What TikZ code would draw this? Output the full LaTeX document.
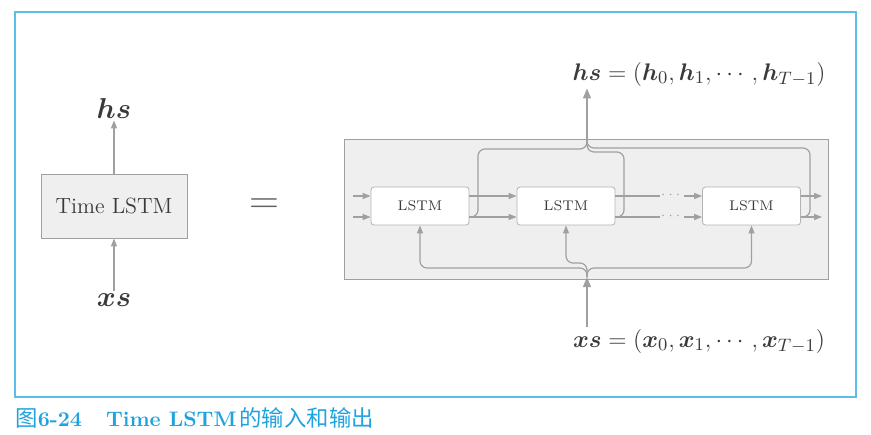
\documentclass[tikz,border=0pt]{standalone}
\usepackage{amsmath}
\usepackage{bm}
\usepackage{fontspec}
\newfontfamily\cjk{Noto Sans CJK SC}
\usetikzlibrary{arrows.meta}
\definecolor{lgray}{HTML}{A0A0A0}
\definecolor{boxfill}{HTML}{EFEFEF}
\definecolor{txt}{HTML}{3A3A3A}
\definecolor{frameblue}{HTML}{5BBFEA}
\definecolor{capblue}{HTML}{1FA3DE}
\tikzset{
  conn/.style={draw=lgray, line width=0.6pt, rounded corners=3.5pt},
  arr/.style={conn, -{Triangle[length=4pt,width=3pt]}},
  bigarr/.style={conn, -{Triangle[length=5pt,width=4pt]}},
  cell/.style={draw=lgray!80, fill=white, rounded corners=1.5pt, minimum width=49pt, minimum height=19pt, inner sep=0pt, font=\fontsize{7}{8}\selectfont, text=txt},
  mathlbl/.style={text=txt, font=\fontsize{14.5}{16}\selectfont, inner sep=1pt},
  mathlblR/.style={text=txt, font=\fontsize{12.8}{15}\selectfont, inner sep=1pt},
  dotlbl/.style={text=lgray, font=\fontsize{7}{8}\selectfont, inner sep=0pt},
}
\begin{document}
\begin{tikzpicture}[x=0.5pt,y=-0.5pt]
\useasboundingbox (0,0) rectangle (871,434);
% frame
\draw[frameblue, line width=0.6pt] (15,12) rectangle (856,397);
\node[anchor=west, text=capblue, inner sep=0pt, font=\fontsize{10.5}{12}\selectfont] (cap) at (15,418)
  {{\cjk\fontsize{11.2}{12}\selectfont 图}\textbf{6-24}\hspace{12pt}\textbf{Time LSTM}\hspace{1.5pt}{\cjk\fontsize{11.2}{12}\selectfont 的输入和输出}};
% left
\node[draw=lgray, fill=boxfill, minimum width=73pt, minimum height=32pt, text=txt, font=\fontsize{11}{13}\selectfont] (tl) at (114,206) {Time LSTM};
\node[mathlbl] (hsL) at (114,108) {$\bm{hs}$};
\node[mathlbl] (xsL) at (114,300) {$\bm{xs}$};
\draw[arr] (tl.north) -- (hsL.south);
\draw[arr] (xsL.north) -- (tl.south);
% equals
\node[text=txt!80, font=\fontsize{22}{24}\selectfont] (eq) at (264,206) {$=$};
% right big box
\node[draw=lgray, fill=boxfill, minimum width=242pt, minimum height=70pt, inner sep=0pt] (big) at (586,209) {};
\node[cell] (b1) at (420,206) {LSTM};
\node[cell] (b2) at (566,206) {LSTM};
\node[cell] (b3) at (751.5,206) {LSTM};
\coordinate (yu) at (0,196);
\coordinate (yl) at (0,217);
\coordinate (inu) at (353,196);
\coordinate (inl) at (353,217);
\coordinate (outu) at (822,196);
\coordinate (outl) at (822,217);
\coordinate (hj) at (587,140);
\coordinate (xj) at (587,277);
% labels
\node[mathlblR] (hsR) at (699,74) {$\bm{hs}=(\bm{h}_0,\bm{h}_1,\cdots,\bm{h}_{T-1})$};
\node[mathlblR] (xsR) at (699,341) {$\bm{xs}=(\bm{x}_0,\bm{x}_1,\cdots,\bm{x}_{T-1})$};
% inputs
\draw[arr] (inu) -- (b1.west |- yu);
\draw[arr] (inl) -- (b1.west |- yl);
% b1 -> b2
\draw[arr] (b1.east |- yu) -- (b2.west |- yu);
\draw[arr] (b1.east |- yl) -- (b2.west |- yl);
% b2 -> b3 with dots
\coordinate (du1) at (660,196);
\coordinate (du2) at (684,196);
\coordinate (dl1) at (660,217);
\coordinate (dl2) at (684,217);
\draw[conn] (b2.east |- yu) -- (du1);
\draw[conn] (b2.east |- yl) -- (dl1);
\node[dotlbl] (dotu) at (672,195) {$\cdots$};
\node[dotlbl] (dotl) at (672,216) {$\cdots$};
\draw[arr] (du2) -- (b3.west |- yu);
\draw[arr] (dl2) -- (b3.west |- yl);
% outputs
\draw[arr] (b3.east |- yu) -- (outu);
\draw[arr] (b3.east |- yl) -- (outl);
% hs gathering
\draw[conn] (b1.east |- yl) -- (478,217) -- (478,149) -- (587,149) -- (hj);
\draw[conn] (b2.east |- yl) -- (624,217) -- (624,152) -- (587,152) -- (hj);
\draw[conn] (b3.east |- yl) -- (810,217) -- (810,148) -- (587,148) -- (hj);
\draw[bigarr] (hj) -- (hj |- hsR.south);
% xs distribution
\draw[bigarr] (xj |- xsR.north) -- (xj);
\draw[arr] (xj) -- (587,268) -- (420,268) -- (b1.south);
\draw[arr] (xj) -- (587,263) -- (566,263) -- (b2.south);
\draw[arr] (xj) -- (587,268) -- (751.5,268) -- (b3.south);
\end{tikzpicture}
\end{document}
